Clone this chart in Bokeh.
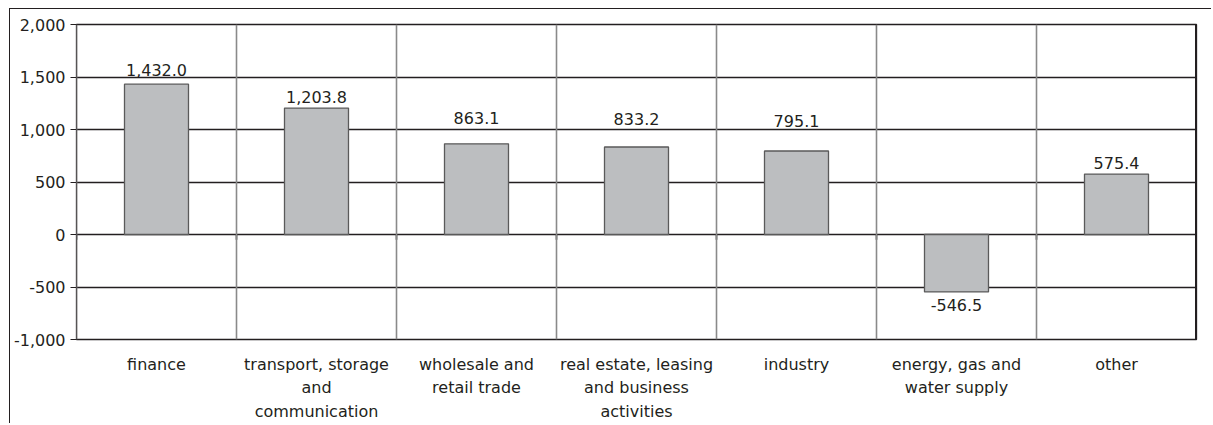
from bokeh.plotting import figure
from bokeh.models import FactorRange, Range1d, FixedTicker, NumeralTickFormatter, Span, ColumnDataSource
from bokeh.core.properties import value
from bokeh.embed import file_html
from bokeh.resources import INLINE

categories = ["finance", "transport, storage\nand\ncommunication", "wholesale and\nretail trade",
              "real estate, leasing\nand business\nactivities", "industry",
              "energy, gas and\nwater supply", "other"]
values = [1432.0, 1203.8, 863.1, 833.2, 795.1, -546.5, 575.4]
labels = ["1,432.0", "1,203.8", "863.1", "833.2", "795.1", "-546.5", "575.4"]
y_ticks = [-1000, -500, 0, 500, 1000, 1500, 2000]

# styling: pixel offset between bar end and its value label
label_gap = [14, 11, 26, 28, 30, 7, 11]

FONT = "DejaVu Sans"
INK = "#231f20"

p = figure(x_range=FactorRange(*categories, range_padding=0, factor_padding=0),
           y_range=Range1d(-1000, 2000),
           width=1202, height=415, output_backend="svg", toolbar_location=None,
           min_border_left=66, min_border_top=15, min_border_right=16, min_border_bottom=85,
           margin=(8, 0, 0, 9),
           styles={"border-top": "1px solid #231f20", "border-left": "1px solid #231f20"})
p.outline_line_color = INK
p.outline_line_width = 1.3
p.background_fill_color = "white"

src = ColumnDataSource(dict(cat=categories, val=values, lab=labels,
                            base=["alphabetic" if v >= 0 else "top" for v in values],
                            off=[-g if v >= 0 else g for v, g in zip(values, label_gap)]))

p.xgrid.grid_line_color = None
p.ygrid.ticker = FixedTicker(ticks=y_ticks)
p.ygrid.grid_line_color = INK
p.ygrid.grid_line_width = 1.3

for i in range(len(categories) + 1):
    if i == len(categories):
        p.add_layout(Span(location=i, dimension="height", line_color=INK, line_width=3))
    else:
        p.add_layout(Span(location=i, dimension="height", line_color="#8a8a8a", line_width=1.6))

# small category-boundary ticks on the zero line
bounds = [(c, -0.5) for c in categories] + [(categories[-1], 0.5)]
p.segment(x0=bounds, y0=[0] * len(bounds), x1=bounds, y1=[-50] * len(bounds),
          line_color=INK, line_width=1.6)

p.vbar(x="cat", top="val", bottom=0, width=0.4, source=src,
       fill_color="#bcbec0", line_color="#5a5a5a", line_width=1.3)

p.text(x="cat", y="val", text="lab", source=src, text_align="center",
       text_baseline="base", y_offset="off", text_font=value(FONT),
       text_font_size="16px", text_color=INK)

ya = p.yaxis[0]
ya.ticker = FixedTicker(ticks=y_ticks)
ya.formatter = NumeralTickFormatter(format="0,0")
ya.axis_line_color = None
ya.major_tick_out = 6
ya.major_tick_in = 0
ya.major_tick_line_color = INK
ya.minor_tick_line_color = None
ya.major_label_standoff = 5
ya.major_label_text_font = FONT
ya.major_label_text_font_size = "16px"
ya.major_label_text_color = INK

xa = p.xaxis[0]
xa.axis_line_color = None
xa.major_tick_line_color = None
xa.major_tick_out = 0
xa.major_tick_in = 0
xa.major_label_standoff = 15
xa.major_label_text_font = FONT
xa.major_label_text_font_size = "16px"
xa.major_label_text_color = INK
xa.major_label_text_line_height = 1.24

open("out.html", "w").write(file_html(p, INLINE))
